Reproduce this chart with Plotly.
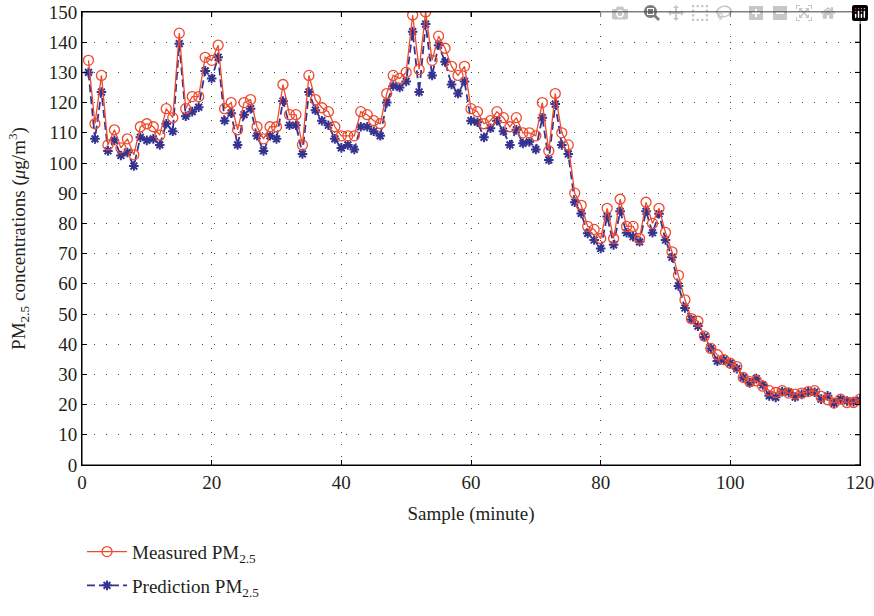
import plotly.graph_objects as go

samples = list(range(1, 121))
measured = [134, 113, 129, 106, 111, 105, 108, 102.7, 112, 113,
            112, 109.2, 118, 115, 143, 118, 122, 122, 135, 134,
            139, 118, 120, 111, 120, 121, 112, 108, 112, 112,
            126, 116, 116, 106, 129, 121, 118.3, 117, 112, 109,
            109, 109, 117, 116, 114, 113, 123, 129, 128, 130,
            149, 131, 150, 134, 142, 138, 132, 129, 132, 118,
            117, 113, 114, 117, 115, 112, 115, 110, 110, 109,
            120, 104, 123, 110, 106, 90, 86, 79, 78, 75,
            85, 75, 88, 79, 79, 75, 87, 80, 85, 77,
            70.6, 62.8, 54.7, 48.5, 47.6, 42.7, 38.6, 36.5, 34.9, 33.7,
            32.6, 29, 27.6, 27.9, 26.1, 24.6, 24, 24.6, 23.8, 23.5,
            23.8, 24.3, 24.6, 22.7, 21.6, 20.5, 21.8, 20.7, 20.7, 21.8]
predicted = [130, 108, 123.5, 104, 107.5, 102.5, 103.5, 99, 108.5, 107.5,
             108, 106, 113, 110.5, 139.5, 115.5, 117, 118.5, 130.5, 128,
             135, 114, 116.5, 106, 116, 118, 109, 104, 109, 108,
             120.5, 112.5, 112.5, 103, 123.5, 117.5, 114, 112.5, 108, 105,
             106, 104.5, 112, 112, 110.5, 109, 120, 125.5, 125, 127,
             143.5, 123.5, 146, 129, 139, 133.5, 126, 123, 127, 114,
             113.5, 108.5, 111.5, 114, 110.5, 106, 111, 106.5, 107, 104.5,
             115, 101, 119.5, 106, 103, 87, 83.3, 76.7, 74.5, 71.7,
             82.3, 72.9, 84, 76.9, 75.6, 73.9, 84, 76.9, 83.2, 74.5,
             68.8, 59.3, 52, 48.2, 46, 42.4, 38.6, 34.4, 34.8, 33.7,
             31.9, 29, 27.2, 28.6, 26.5, 22.9, 22.4, 24.3, 24.1, 22.5,
             23.4, 24.2, 24.1, 21.8, 22.9, 20.4, 21.8, 21.2, 21, 21.5]

x_ticks = [0, 20, 40, 60, 80, 100, 120]
y_ticks = list(range(0, 151, 10))

RED = "#EE4A2E"
BLUE = "#35338F"
FONT = "Liberation Serif"
FS = 19
TXT = "#231F20"

fig = go.Figure()
fig.add_trace(go.Scatter(
    x=samples, y=predicted, mode="lines+markers",
    name="Prediction PM<sub>2.5</sub>",
    line=dict(color=BLUE, width=1.8, dash="8px,4px"),
    marker=dict(symbol="asterisk-open", size=8, color=BLUE, line=dict(color=BLUE, width=2)),
    legend="legend2",
))
fig.add_trace(go.Scatter(
    x=samples, y=measured, mode="lines+markers",
    name="Measured PM<sub>2.5</sub>",
    line=dict(color=RED, width=1.3),
    marker=dict(symbol="circle-open", size=10, color=RED, line=dict(color=RED, width=1.3)),
    legend="legend",
))

axis_common = dict(
    showline=True, linecolor="black", linewidth=1, mirror="ticks",
    ticks="inside", ticklen=5, tickcolor="black", tickwidth=1,
    showgrid=True, gridcolor="#444444", gridwidth=1, griddash="1px,11px",
    zeroline=False, automargin=False,
    tickfont=dict(family=FONT, size=FS, color=TXT),
)

# frame and mirrored inside ticks (top and right), built from the tick arrays
fig.add_shape(type="rect", xref="paper", yref="paper", x0=0, x1=1, y0=0, y1=1,
              line=dict(color="black", width=1), fillcolor="rgba(0,0,0,0)")
for xv in x_ticks:
    fig.add_shape(type="line", xref="x", yref="paper", x0=xv, x1=xv, y0=1, y1=1 - 5 / 461,
                  line=dict(color="black", width=1))
for yv in y_ticks:
    fig.add_shape(type="line", xref="paper", yref="y", x0=1, x1=1 - 5 / 778, y0=yv, y1=yv,
                  line=dict(color="black", width=1))

fig.update_layout(
    width=874, height=616,
    margin=dict(l=82, r=14, t=12, b=135),
    paper_bgcolor="white", plot_bgcolor="white",
    font=dict(family=FONT, size=FS, color=TXT),
    xaxis=dict(range=[0, 120], tickvals=x_ticks, ticklabeloverflow="allow",
               title=dict(text="Sample (minute)", font=dict(family=FONT, size=FS, color=TXT), standoff=14),
               **axis_common),
    yaxis=dict(range=[0, 150], tickvals=y_ticks,
               title=dict(text="PM<sub>2.5</sub> concentrations (<i>μ</i>g/m<sup>3</sup>)",
                          font=dict(family=FONT, size=FS, color=TXT), standoff=18),
               **axis_common),
    legend=dict(x=0.0, y=-0.2334, xanchor="left", yanchor="bottom",
                bgcolor="rgba(0,0,0,0)", font=dict(family=FONT, size=FS, color=TXT),
                itemwidth=40),
    legend2=dict(x=0.0, y=-0.308, xanchor="left", yanchor="bottom",
                 bgcolor="rgba(0,0,0,0)", font=dict(family=FONT, size=FS, color=TXT),
                 itemwidth=40),
    showlegend=True,
)

fig.write_html("out.html",
               post_script="document.body.style.margin='0';document.body.style.overflow='hidden';")
